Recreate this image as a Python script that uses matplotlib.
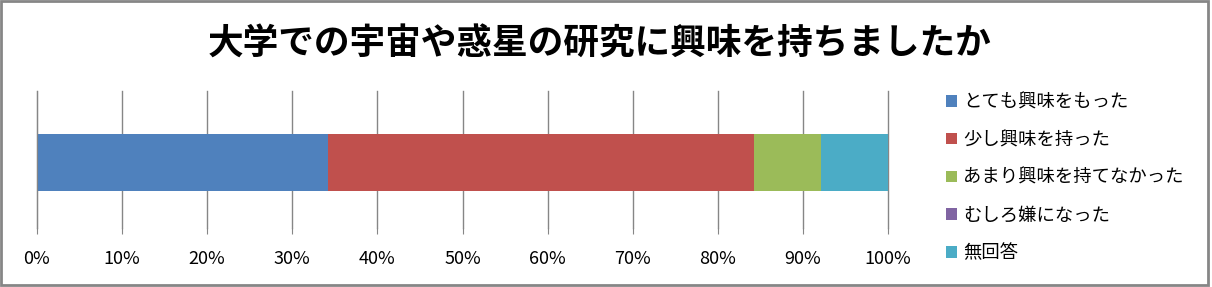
import numpy as np
import matplotlib.pyplot as plt
from matplotlib.patches import Rectangle, Patch

plt.rcParams['font.family'] = ['Noto Sans CJK JP', 'DejaVu Sans']

# answers (share of respondents, %)
answers = ['とても興味をもった', '少し興味を持った', 'あまり興味を持てなかった',
           'むしろ嫌になった', '無回答']
shares = [34.2, 50.0, 7.9, 0.0, 7.9]
colors = ['#4f81bd', '#c0504d', '#9bbb59', '#8064a2', '#4bacc6']
title = '大学での宇宙や惑星の研究に興味を持ちましたか'

W, H = 1212, 287
fig = plt.figure(figsize=(W / 100, H / 100), dpi=100)

# plot area in pixels: x 37..888, y 91..228
ax = fig.add_axes([37 / W, 1 - 228 / H, (888 - 37) / W, (228 - 91) / H])

left = 0.0
for val, col, lab in zip(shares, colors, answers):
    ax.barh(-0.02, val, left=left, height=0.416, color=col, label=lab,
            linewidth=0)
    left += val

ax.set_xlim(0, 100)
ax.set_ylim(-0.5, 0.5)
ax.set_xticks(np.arange(0, 101, 10))
ax.set_xticklabels([f'{t}%' for t in range(0, 101, 10)], fontsize=13)
ax.set_yticks([])
ax.grid(axis='x', color='#868686', linewidth=1)
for gl in ax.get_xgridlines():
    gl.set_clip_on(False)
ax.set_axisbelow(True)
for s in ['top', 'right', 'bottom']:
    ax.spines[s].set_visible(False)
ax.spines['left'].set_color('#868686')
ax.tick_params(axis='x', length=4, color='#868686', pad=12)

handles = [Patch(facecolor=c, edgecolor='none') for c in colors]
fig.legend(handles, answers, loc='upper left',
           bbox_to_anchor=(939 / W, 1 - 86 / H), frameon=False,
           fontsize=13.2, handlelength=0.6, handleheight=0.6,
           handletextpad=0.3, labelspacing=1.08, borderaxespad=0)

fig.text(600 / W, 1 - 44 / H, title, ha='center', va='center',
         fontsize=25.7, fontweight='bold')

fig.patches.append(Rectangle((1 / W, 2 / H), (W - 5) / W, (H - 3) / H,
                             transform=fig.transFigure, fill=False,
                             edgecolor='#868686', linewidth=2))

fig.savefig('out.png', dpi=100)
